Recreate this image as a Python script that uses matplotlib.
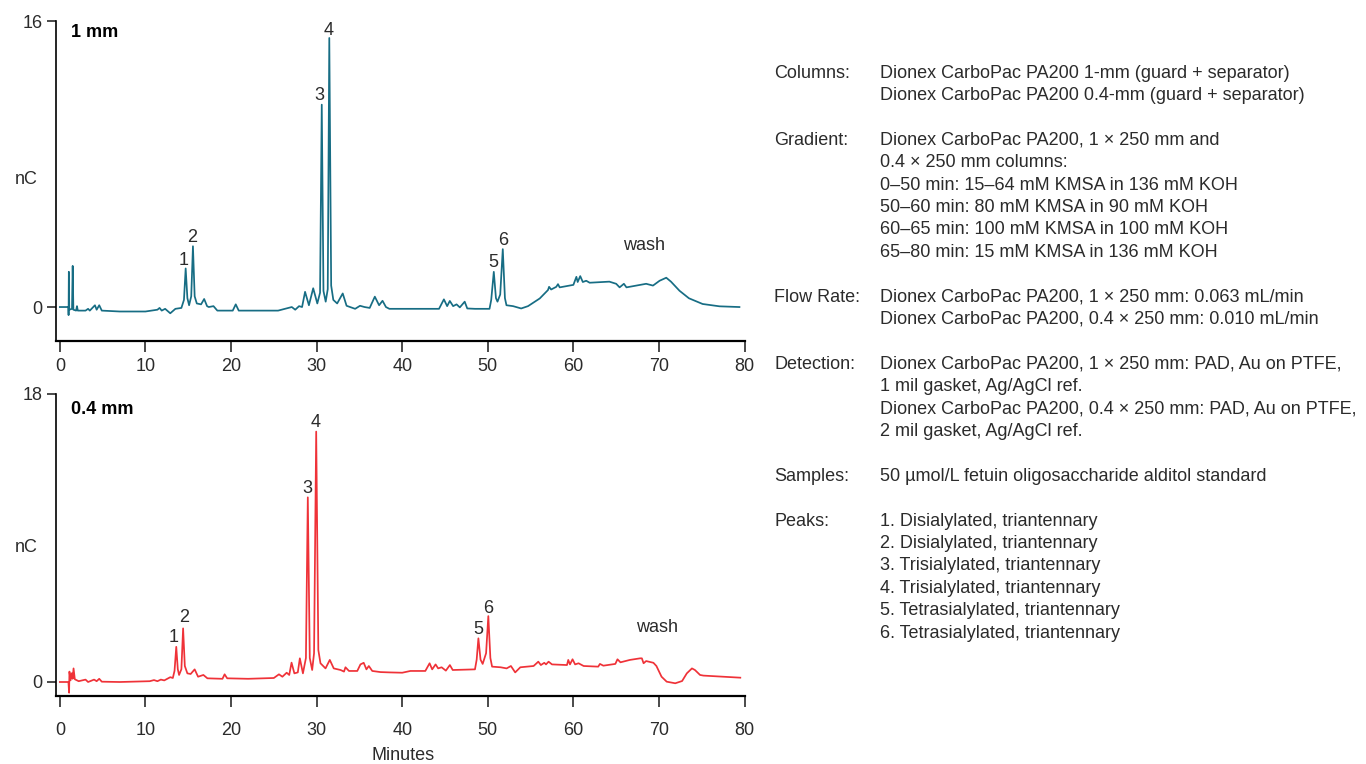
"""
Chromatogram comparison: fetuin oligosaccharide alditols on 1-mm and 0.4-mm
Dionex CarboPac PA200 columns, with the method conditions listed on the right.
"""

import matplotlib
matplotlib.use("Agg")
import matplotlib.pyplot as plt

# ---- data (time in min, signal in nC) ----
top_time = [0, 1.0, 1.02, 1.05, 1.1, 1.42, 1.5, 1.58, 1.9, 2.0, 2.1, 3.0, 3.3, 3.5,
            4.1, 4.3, 4.6, 4.9, 7.0, 10.0, 11.4, 11.65, 11.9, 12.3, 12.9, 13.5,
            14.2, 14.5, 14.7, 14.9, 15.1, 15.35, 15.55, 15.75, 16.0, 16.5, 16.86,
            17.2, 17.4, 17.95, 18.4, 20.2, 20.55, 20.9, 25.5, 27.1, 27.5, 27.95,
            28.3, 28.65, 29.1, 29.6, 30.08, 30.4, 30.6, 30.8, 31.06, 31.3, 31.48,
            31.7, 31.95, 32.4, 33.05, 33.5, 34.5, 35.07, 35.6, 36.2, 36.8, 37.3,
            37.7, 38.1, 38.5, 44.3, 44.87, 45.25, 45.56, 45.95, 46.35, 46.73,
            47.3, 47.6, 48.5, 50.2, 50.4, 50.7, 50.95, 51.13, 51.45, 51.75, 52.0,
            52.18, 52.95, 53.9, 54.7, 56.07, 57.03, 57.16, 57.4, 58.0, 58.2, 58.4,
            60.0, 60.35, 60.5, 60.8, 61.1, 61.5, 61.9, 64.2, 65.0, 65.4, 65.9,
            66.2, 67.35, 68.5, 69.3, 70.07, 70.85, 71.4, 72.4, 73.5, 75.1, 77.07,
            79.4]
top_signal = [0.0, 0.0, -0.45, 1.97, -0.15, -0.1, 2.3, -0.15, -0.2, 0.05, -0.2, -0.2,
              -0.1, -0.2, 0.1, -0.15, 0.1, -0.2, -0.25, -0.25, -0.15, -0.05, -0.2,
              -0.1, -0.35, -0.1, -0.05, 0.4, 2.16, 0.5, 0.1, 0.6, 3.4, 0.6, 0.2,
              0.15, 0.45, 0.05, 0.0, 0.05, -0.2, -0.2, 0.15, -0.2, -0.2, 0.0,
              -0.15, 0.05, 0.0, 0.85, 0.1, 1.05, 0.2, 0.8, 11.32, 0.9, 0.3, 1.0,
              15.05, 1.2, 0.4, 0.2, 0.76, 0.07, -0.1, 0.07, 0.0, -0.05, 0.58, 0.1,
              0.35, 0.0, -0.1, -0.1, 0.43, 0.05, 0.34, 0.05, 0.15, -0.02, 0.3,
              -0.08, -0.1, -0.1, 0.4, 1.97, 0.5, 0.3, 0.7, 3.24, 0.5, 0.1, 0.05,
              -0.08, 0.05, 0.48, 0.95, 1.13, 0.98, 1.13, 1.28, 1.1, 1.24, 1.69,
              1.4, 1.73, 1.4, 1.47, 1.36, 1.42, 1.3, 1.1, 1.3, 1.1, 1.2, 1.3, 1.2,
              1.47, 1.64, 1.42, 0.91, 0.49, 0.17, 0.04, 0.0]

bottom_time = [0, 1.0, 1.08, 1.12, 1.25, 1.4, 1.5, 1.6, 1.75, 2.2, 3.0, 3.3, 4.0, 4.3,
               4.6, 4.9, 7.0, 10.5, 11.0, 11.4, 11.8, 12.2, 12.9, 13.2, 13.4, 13.6,
               13.78, 13.93, 14.2, 14.4, 14.6, 14.9, 15.28, 15.75, 16.15, 16.77,
               17.24, 19.0, 19.25, 19.55, 22.0, 25.0, 25.6, 26.0, 26.5, 26.8,
               27.07, 27.4, 27.8, 28.04, 28.4, 28.75, 28.97, 29.2, 29.48, 29.7,
               29.95, 30.2, 30.45, 31.04, 31.54, 32.0, 32.8, 33.2, 33.37, 33.78,
               34.75, 35.12, 35.5, 35.82, 36.1, 36.5, 37.46, 38.5, 40.0, 40.96,
               42.7, 43.2, 43.5, 43.9, 44.2, 44.6, 45.1, 45.57, 45.9, 48.5, 48.7,
               48.9, 49.15, 49.4, 49.8, 50.06, 50.3, 50.5, 51.5, 52.2, 52.7, 53.2,
               53.8, 55.35, 55.9, 56.2, 56.6, 56.8, 57.1, 57.5, 59.25, 59.4, 59.6,
               59.9, 60.2, 60.6, 61.2, 62.9, 63.1, 63.5, 64.9, 65.15, 65.5, 66.6,
               67.8, 68.0, 68.2, 68.5, 69.35, 69.7, 70.3, 70.9, 71.9, 72.7, 73.25,
               73.85, 74.2, 74.8, 75.2, 79.5]
bottom_signal = [0.0, 0.0, -0.67, 0.65, 0.1, 0.55, 0.2, 0.85, 0.17, 0.05, 0.15, 0.0,
                 0.15, 0.05, 0.2, 0.02, 0.0, 0.05, 0.12, 0.05, 0.15, 0.1, 0.3,
                 0.25, 0.7, 2.2, 0.8, 0.44, 0.8, 3.35, 1.0, 0.54, 0.5, 0.79, 0.33,
                 0.44, 0.23, 0.2, 0.48, 0.23, 0.2, 0.25, 0.48, 0.33, 0.58, 0.44,
                 1.21, 0.54, 0.6, 1.48, 0.54, 1.5, 11.54, 1.5, 0.75, 1.8, 15.65,
                 2.0, 1.17, 0.85, 1.38, 0.85, 0.75, 0.65, 0.92, 0.69, 0.69, 1.1,
                 1.2, 0.79, 1.0, 0.69, 0.62, 0.6, 0.58, 0.69, 0.69, 1.17, 0.79,
                 1.1, 0.85, 0.92, 0.71, 1.06, 0.75, 0.79, 1.4, 2.73, 1.4, 1.13,
                 1.8, 4.12, 1.5, 0.96, 0.92, 0.85, 1.0, 0.6, 0.92, 1.0, 1.27, 1.06,
                 1.2, 1.1, 1.27, 1.1, 1.06, 1.38, 1.1, 1.42, 1.1, 1.17, 1.0, 0.96,
                 1.13, 1.02, 1.13, 1.42, 1.23, 1.38, 1.48, 1.48, 1.17, 1.31, 1.2,
                 1.0, 0.33, 0.02, -0.08, 0.06, 0.54, 0.85, 0.75, 0.44, 0.4, 0.27]

# peak labels, placed by their baseline (time in min, nC)
top_peak_labels = ["1", "2", "3", "4", "5", "6", "wash"]
top_peak_x = [14.45, 15.5, 30.3, 31.35, 50.7, 51.75, 68.3]
top_peak_y = [2.36, 3.66, 11.58, 15.21, 2.22, 3.45, 3.18]

bottom_peak_labels = ["1", "2", "3", "4", "5", "6", "wash"]
bottom_peak_x = [13.35, 14.5, 28.9, 29.9, 48.85, 50.1, 69.8]
bottom_peak_y = [2.53, 3.72, 11.8, 15.93, 2.99, 4.34, 3.14]

# method conditions (label column, value column); blank rows separate groups
info_labels = ["Columns:", "", "", "Gradient:", "", "", "", "", "", "",
               "Flow Rate:", "", "", "Detection:", "", "", "", "",
               "Samples:", "", "Peaks:", "", "", "", "", ""]
info_values = [
    "Dionex CarboPac PA200 1-mm (guard + separator)",
    "Dionex CarboPac PA200 0.4-mm (guard + separator)",
    "",
    "Dionex CarboPac PA200, 1 \u00d7 250 mm and",
    "0.4 \u00d7 250 mm columns:",
    "0\u201350 min: 15\u201364 mM KMSA in 136 mM KOH",
    "50\u201360 min: 80 mM KMSA in 90 mM KOH",
    "60\u201365 min: 100 mM KMSA in 100 mM KOH",
    "65\u201380 min: 15 mM KMSA in 136 mM KOH",
    "",
    "Dionex CarboPac PA200, 1 \u00d7 250 mm: 0.063 mL/min",
    "Dionex CarboPac PA200, 0.4 \u00d7 250 mm: 0.010 mL/min",
    "",
    "Dionex CarboPac PA200, 1 \u00d7 250 mm: PAD, Au on PTFE,",
    "1 mil gasket, Ag/AgCl ref.",
    "Dionex CarboPac PA200, 0.4 \u00d7 250 mm: PAD, Au on PTFE,",
    "2 mil gasket, Ag/AgCl ref.",
    "",
    "50 \u00b5mol/L fetuin oligosaccharide alditol standard",
    "",
    "1. Disialylated, triantennary",
    "2. Disialylated, triantennary",
    "3. Trisialylated, triantennary",
    "4. Trisialylated, triantennary",
    "5. Tetrasialylated, triantennary",
    "6. Tetrasialylated, triantennary",
]

TEXT_COLOR = "#2b2b2b"
FS = 13


def style_axis(ax, ymax, ylow, xpad):
    # only left and bottom spines, ticks pointing outward
    ax.spines["top"].set_visible(False)
    ax.spines["right"].set_visible(False)
    ax.spines["left"].set_linewidth(1.2)
    ax.spines["bottom"].set_linewidth(1.6)
    ax.set_xlim(-0.45, 80.05)
    ax.set_ylim(ylow, ymax)
    ax.set_xticks(range(0, 81, 10))
    ax.set_yticks([0, ymax])
    ax.tick_params(axis="y", direction="out", length=6.5, width=1.2,
                   labelsize=FS, pad=3, colors=TEXT_COLOR)
    ax.tick_params(axis="x", direction="out", length=8, width=1.2,
                   labelsize=FS, pad=xpad, colors=TEXT_COLOR)
    ax.spines["left"].set_bounds(ylow, ymax)


def main():
    plt.rcParams["font.family"] = ["Liberation Sans", "DejaVu Sans"]

    fig = plt.figure(figsize=(13.66, 7.64), dpi=100)
    W, H = 1366, 764

    # axes boxes measured in pixels of the reference
    ax_top = fig.add_axes([56 / W, 1 - 341 / H, (745 - 56) / W, (341 - 21) / H])
    ax_bot = fig.add_axes([56 / W, 1 - 696 / H, (745 - 56) / W, (696 - 394) / H])

    ax_top.plot(top_time, top_signal, color="#176d84", linewidth=1.25)
    ax_bot.plot(bottom_time, bottom_signal, color="#ef3238", linewidth=1.25)

    style_axis(ax_top, 16, -1.9, 4.5)
    style_axis(ax_bot, 18, -0.875, 10.5)

    for lab, x, y in zip(top_peak_labels, top_peak_x, top_peak_y):
        ax_top.text(x, y, lab, ha="center", va="baseline", fontsize=FS, color=TEXT_COLOR)
    for lab, x, y in zip(bottom_peak_labels, bottom_peak_x, bottom_peak_y):
        ax_bot.text(x, y, lab, ha="center", va="baseline", fontsize=FS, color=TEXT_COLOR)

    ax_top.text(0.022, 0.963, "1 mm", transform=ax_top.transAxes, fontsize=FS,
                fontweight="bold", va="center", ha="left", color="black")
    ax_bot.text(0.022, 0.948, "0.4 mm", transform=ax_bot.transAxes, fontsize=FS,
                fontweight="bold", va="center", ha="left", color="black")

    fig.text(26 / W, 1 - 180 / H, "nC", fontsize=FS, ha="center", va="center", color=TEXT_COLOR)
    fig.text(26 / W, 1 - 548 / H, "nC", fontsize=FS, ha="center", va="center", color=TEXT_COLOR)
    fig.text(403 / W, 1 - 755 / H, "Minutes", fontsize=FS, ha="center", va="center", color=TEXT_COLOR)

    # method conditions block
    for i, (lab, val) in enumerate(zip(info_labels, info_values)):
        y = 1 - (73 + 22.4 * i) / H
        if lab:
            fig.text(774 / W, y, lab, fontsize=FS, ha="left", va="center", color=TEXT_COLOR)
        if val:
            fig.text(880 / W, y, val, fontsize=FS, ha="left", va="center", color=TEXT_COLOR)

    fig.savefig("out.png", dpi=100)


if __name__ == "__main__":
    main()
